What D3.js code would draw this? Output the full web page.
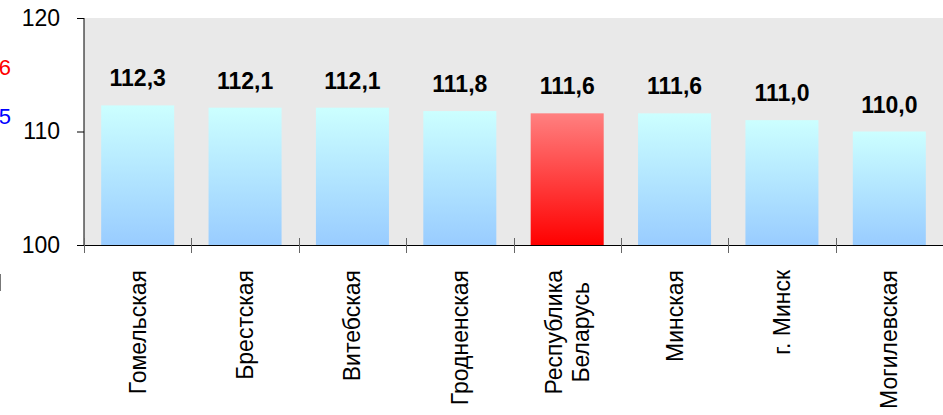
<!DOCTYPE html>
<html><head><meta charset="utf-8">
<script src="https://cdn.jsdelivr.net/npm/d3@7"></script>
<style>body{margin:0;background:#fff}svg{display:block}</style>
</head><body>
<svg id="c" width="943" height="415"></svg>
<script>
const categories = ["Гомельская","Брестская","Витебская","Гродненская","Республика Беларусь","Минская","г. Минск","Могилевская"];
const values = [112.3,112.1,112.1,111.8,111.6,111.6,111.0,110.0];
const highlight = [false,false,false,false,true,false,false,false];
const yTicks = [100,110,120];

const FONT = "Arial, 'Liberation Sans', sans-serif";
const svg = d3.select("#c");
const L=84, R=943, T=18, B=245;
const x = d3.scaleBand().domain(categories).range([L,R]).paddingInner(0.32).paddingOuter(0.16);
const y = d3.scaleLinear().domain([100,120]).range([B,T]);

const defs = svg.append("defs");
const g1 = defs.append("linearGradient").attr("id","gb").attr("x1",0).attr("y1",0).attr("x2",0).attr("y2",1);
g1.append("stop").attr("offset","0%").attr("stop-color","#ccffff");
g1.append("stop").attr("offset","100%").attr("stop-color","#99ccff");
const g2 = defs.append("linearGradient").attr("id","gr").attr("x1",0).attr("y1",0).attr("x2",0).attr("y2",1);
g2.append("stop").attr("offset","0%").attr("stop-color","#ff8080");
g2.append("stop").attr("offset","100%").attr("stop-color","#ff0000");

// clipped side texts (cut off at the left edge, as in the reference)
svg.append("text").attr("x",11).attr("y",75).attr("text-anchor","end").attr("fill","#ff0000")
  .style("font",`22px ${FONT}`).text("116");
svg.append("text").attr("x",11).attr("y",124).attr("text-anchor","end").attr("fill","#0000ff")
  .style("font",`22px ${FONT}`).text("115");
svg.append("line").attr("x1",0.5).attr("x2",0.5).attr("y1",274).attr("y2",291).attr("stroke","#777");

// plot background
svg.append("rect").attr("x",L).attr("y",T).attr("width",R-L).attr("height",B-T).attr("fill","#e9e9e9");

// bars
svg.selectAll("rect.bar").data(values).enter().append("rect").attr("class","bar")
  .attr("x",(d,i)=>x(categories[i])).attr("width",x.bandwidth())
  .attr("y",d=>y(d)).attr("height",d=>B-y(d))
  .attr("fill",(d,i)=>highlight[i]?"url(#gr)":"url(#gb)");

// value labels
svg.selectAll("text.val").data(values).enter().append("text").attr("class","val")
  .attr("x",(d,i)=>x(categories[i])+x.bandwidth()/2).attr("y",d=>y(d)-19)
  .attr("text-anchor","middle").style("font",`bold 23px ${FONT}`).attr("fill","#000")
  .text(d=>d.toFixed(1).replace(".",","));

// y axis
const ya = svg.append("g").attr("transform",`translate(${L},0)`)
  .call(d3.axisLeft(y).tickValues(yTicks).tickSize(7).tickPadding(17).tickFormat(d3.format("d")));
ya.select(".domain").attr("stroke","#000").attr("d",`M0,${T}V${B}`);
ya.selectAll(".tick line").attr("stroke","#000");
ya.selectAll("text").style("font",`23px ${FONT}`).attr("fill","#000");

// x axis baseline and ticks
svg.append("line").attr("x1",L).attr("x2",R).attr("y1",B+0.5).attr("y2",B+0.5).attr("stroke","#000");
const bounds = categories.map(c=>x(c)-x.step()*x.paddingOuter());
svg.selectAll("line.xt").data(bounds).enter().append("line").attr("class","xt")
  .attr("x1",d=>Math.round(d)+0.5).attr("x2",d=>Math.round(d)+0.5).attr("y1",238).attr("y2",253)
  .attr("stroke","#666");

// category labels (rotated, lines centred on each other, block ending near the axis)
const END = 270;
const cl = svg.selectAll("g.cat").data(categories).enter().append("g").attr("class","cat")
  .attr("transform",d=>`translate(${x(d)+x.bandwidth()/2},0) rotate(-90)`);
cl.each(function(d){
  const g = d3.select(this);
  const lines = d==="Республика Беларусь" ? ["Республика","Беларусь"] : [d];
  const n = lines.length;
  const texts = lines.map((t,k)=> g.append("text").attr("y",(k-(n-1)/2)*27+8)
      .attr("text-anchor","middle").style("font",`23px ${FONT}`).attr("fill","#000").text(t));
  const maxW = d3.max(texts, t=>t.node().getComputedTextLength());
  texts.forEach(t=>t.attr("x", -(END + maxW/2)));
});
</script>
</body></html>
